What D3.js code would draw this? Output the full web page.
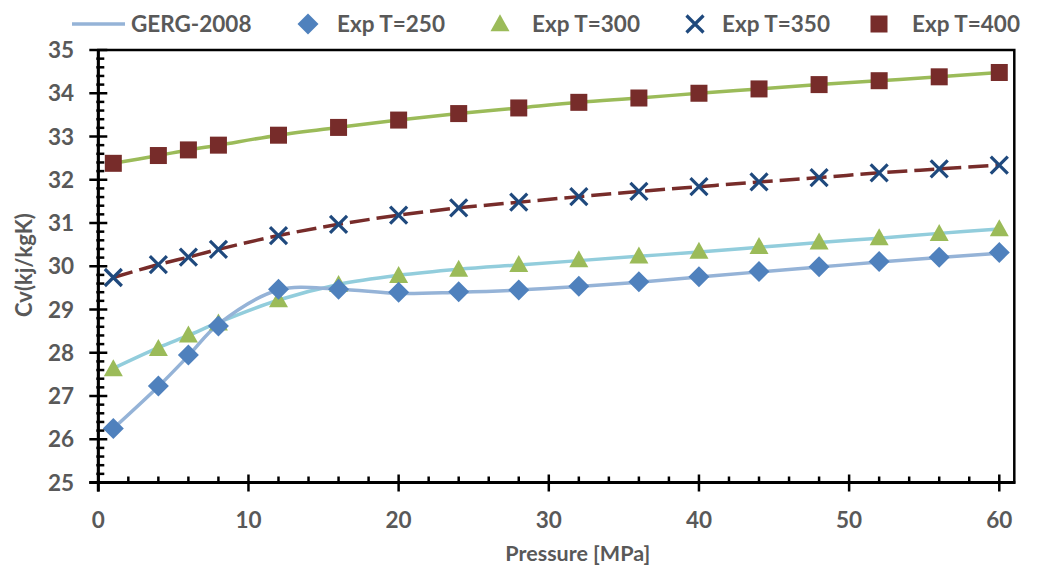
<!DOCTYPE html>
<html>
<head>
<meta charset="utf-8">
<script src="https://cdn.jsdelivr.net/npm/d3@7"></script>
<style>
  html, body { margin: 0; padding: 0; background: #fff; }
  svg { display: block; }
  text { font-family: Lato, "Open Sans", sans-serif; font-weight: 700; fill: #595959; }
</style>
</head>
<body>
<svg id="chart" width="1037" height="569"></svg>
<script>
// Pressures [MPa] at which Cv was measured / evaluated
const pressures = [1, 4, 6, 8, 12, 16, 20, 24, 28, 32, 36, 40, 44, 48, 52, 56, 60];

// Experimental Cv (kJ/kgK) per temperature
const exp250 = [26.25, 27.23, 27.95, 28.62, 29.47, 29.47, 29.40, 29.41, 29.45, 29.54, 29.64, 29.76, 29.88, 29.99, 30.11, 30.21, 30.32];
const exp300 = [27.62, 28.09, 28.40, 28.68, 29.22, 29.57, 29.78, 29.92, 30.03, 30.14, 30.23, 30.34, 30.45, 30.55, 30.65, 30.75, 30.86];
const exp350 = [29.74, 30.04, 30.21, 30.39, 30.71, 30.97, 31.18, 31.35, 31.48, 31.61, 31.73, 31.84, 31.95, 32.05, 32.16, 32.25, 32.34];
const exp400 = [32.38, 32.56, 32.69, 32.80, 33.03, 33.21, 33.38, 33.53, 33.66, 33.79, 33.89, 34.00, 34.10, 34.20, 34.29, 34.38, 34.48];

// GERG-2008 model curves at the same pressures
const gerg250 = [26.25, 27.22, 27.93, 28.66, 29.45, 29.47, 29.37, 29.40, 29.45, 29.53, 29.63, 29.75, 29.87, 29.98, 30.10, 30.20, 30.30];
const gerg300 = [27.64, 28.12, 28.40, 28.70, 29.22, 29.58, 29.79, 29.93, 30.03, 30.13, 30.23, 30.33, 30.44, 30.55, 30.65, 30.76, 30.86];
const gerg350 = [29.74, 30.04, 30.21, 30.39, 30.71, 30.97, 31.18, 31.35, 31.48, 31.61, 31.73, 31.84, 31.95, 32.05, 32.16, 32.25, 32.34];
const gerg400 = [32.38, 32.56, 32.69, 32.80, 33.03, 33.21, 33.38, 33.53, 33.66, 33.79, 33.89, 34.00, 34.10, 34.20, 34.29, 34.38, 34.48];

const xTicks = [0, 10, 20, 30, 40, 50, 60];
const yTicks = [25, 26, 27, 28, 29, 30, 31, 32, 33, 34, 35];
const legendLabels = ["GERG-2008", "Exp T=250", "Exp T=300", "Exp T=350", "Exp T=400"];

const svg = d3.select("#chart");
const plotL = 98.3, plotR = 1014.3, plotT = 50, plotB = 482.5;

const x = d3.scaleLinear().domain([0, 61]).range([plotL, plotR]);
const y = d3.scaleLinear().domain([25, 35]).range([plotB, plotT]);

const axisCol = "#000";

// GERG lines
const line = d3.line().x((d, i) => x(pressures[i])).y(d => y(d)).curve(d3.curveCatmullRom.alpha(0.5));
const lineSpecs = [
  { data: gerg400, color: "#9BBB59", dash: null },
  { data: gerg350, color: "#772C2A", dash: "20,7" },
  { data: gerg300, color: "#92CDDC", dash: null },
  { data: gerg250, color: "#95B3D7", dash: null }
];
const gLines = svg.append("g");
lineSpecs.forEach(s => {
  gLines.append("path").datum(s.data)
    .attr("d", line)
    .attr("fill", "none")
    .attr("stroke", s.color)
    .attr("stroke-width", 3.5)
    .attr("stroke-dasharray", s.dash);
});

// Marker drawing helpers
function diamond(g, cx, cy) {
  const r = 10.5;
  g.append("path").attr("d", `M${cx},${cy - r}L${cx + r},${cy}L${cx},${cy + r}L${cx - r},${cy}Z`).attr("fill", "#4F81BD");
}
function triangle(g, cx, cy) {
  const w = 9.5, h = 17;
  g.append("path").attr("d", `M${cx},${cy - h * 0.58}L${cx + w},${cy + h * 0.42}L${cx - w},${cy + h * 0.42}Z`).attr("fill", "#9BBB59");
}
function cross(g, cx, cy) {
  const r = 8.5;
  g.append("path").attr("d", `M${cx - r},${cy - r}L${cx + r},${cy + r}M${cx - r},${cy + r}L${cx + r},${cy - r}`)
    .attr("stroke", "#1F497D").attr("stroke-width", 3.2).attr("fill", "none");
}
function square(g, cx, cy) {
  const r = 8.5;
  g.append("rect").attr("x", cx - r).attr("y", cy - r).attr("width", 2 * r).attr("height", 2 * r).attr("fill", "#772C2A");
}

const gMarks = svg.append("g");
const markSpecs = [
  { data: exp400, draw: square },
  { data: exp350, draw: cross },
  { data: exp300, draw: triangle },
  { data: exp250, draw: diamond }
];
markSpecs.forEach(s => {
  s.data.forEach((v, i) => s.draw(gMarks, x(pressures[i]), y(v)));
});

// Frame
svg.append("rect").attr("x", plotL).attr("y", plotT).attr("width", plotR - plotL).attr("height", plotB - plotT)
  .attr("fill", "none").attr("stroke", axisCol).attr("stroke-width", 2.5);

// Y axis: major and minor ticks crossing the axis line
const gy = svg.append("g");
d3.range(25, 35.001, 0.2).forEach(v => {
  const isMajor = Math.abs(v - Math.round(v)) < 1e-6;
  gy.append("line")
    .attr("x1", isMajor ? plotL - 9 : plotL - 2).attr("x2", isMajor ? plotL + 9 : plotL + 6)
    .attr("y1", y(v)).attr("y2", y(v))
    .attr("stroke", axisCol).attr("stroke-width", 2.5);
});
gy.append("line").attr("x1", plotL).attr("x2", plotL).attr("y1", plotT).attr("y2", plotB + 9)
  .attr("stroke", axisCol).attr("stroke-width", 3);
gy.selectAll("text.tick").data(yTicks).join("text")
  .attr("x", 74).attr("y", d => y(d)).attr("dy", "0.36em")
  .attr("text-anchor", "end").attr("font-size", 22.5).text(d => d);

// X axis
const gx = svg.append("g");
d3.range(0, 60.001, 2).forEach(v => {
  const isMajor = v % 10 === 0;
  gx.append("line")
    .attr("x1", x(v)).attr("x2", x(v))
    .attr("y1", isMajor ? plotB - 8 : plotB - 6).attr("y2", isMajor ? plotB + 9 : plotB)
    .attr("stroke", axisCol).attr("stroke-width", 2.5);
});
gx.append("line").attr("x1", plotL - 9).attr("x2", plotR + 1).attr("y1", plotB).attr("y2", plotB)
  .attr("stroke", axisCol).attr("stroke-width", 3);
gx.selectAll("text.tick").data(xTicks).join("text")
  .attr("x", d => x(d)).attr("y", 528)
  .attr("text-anchor", "middle").attr("font-size", 22.5).text(d => d);

// Axis titles
svg.append("text").attr("x", (x(0) + x(60)) / 2 + 29).attr("y", 561).attr("text-anchor", "middle")
  .attr("font-size", 21.5).text("Pressure [MPa]");
svg.append("text").attr("transform", "translate(32,265) rotate(-90)").attr("text-anchor", "middle")
  .attr("font-size", 22).text("Cv(kj/kgK)");

// Legend
const gl = svg.append("g");
const ly = 24;
gl.append("line").attr("x1", 72).attr("x2", 125).attr("y1", ly).attr("y2", ly)
  .attr("stroke", "#95B3D7").attr("stroke-width", 3.5);
const lfs = 22.5;
gl.append("text").attr("x", 131).attr("y", ly).attr("dy", "0.36em").attr("font-size", lfs).text(legendLabels[0]);
diamond(gl, 308, ly);
gl.append("text").attr("x", 337).attr("y", ly).attr("dy", "0.36em").attr("font-size", lfs).text(legendLabels[1]);
triangle(gl, 500, ly);
gl.append("text").attr("x", 532).attr("y", ly).attr("dy", "0.36em").attr("font-size", lfs).text(legendLabels[2]);
cross(gl, 695, ly);
gl.append("text").attr("x", 722).attr("y", ly).attr("dy", "0.36em").attr("font-size", lfs).text(legendLabels[3]);
square(gl, 879, ly);
gl.append("text").attr("x", 912).attr("y", ly).attr("dy", "0.36em").attr("font-size", lfs).text(legendLabels[4]);
</script>
</body>
</html>
